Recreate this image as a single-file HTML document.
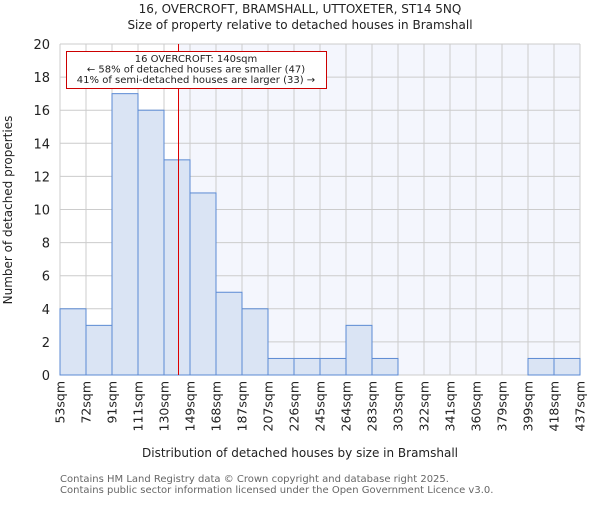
<!DOCTYPE html>
<html><head><meta charset="utf-8"><style>
body{margin:0;background:#fff;}
svg text{font-family:"DejaVu Sans","Liberation Sans",sans-serif;}
</style></head><body>
<svg id="chart" width="600" height="500" xmlns="http://www.w3.org/2000/svg">
<text x="300" y="13" text-anchor="middle" font-size="12" fill="#222">16, OVERCROFT, BRAMSHALL, UTTOXETER, ST14 5NQ</text>
<text x="300" y="29" text-anchor="middle" font-size="12" fill="#222">Size of property relative to detached houses in Bramshall</text>
<g id="plot"></g>
<text x="300" y="457" text-anchor="middle" font-size="12" fill="#222">Distribution of detached houses by size in Bramshall</text>
<text transform="translate(12,210) rotate(-90)" text-anchor="middle" font-size="12" fill="#222">Number of detached properties</text>
<text x="60" y="482" font-size="10" fill="#666">Contains HM Land Registry data © Crown copyright and database right 2025.</text>
<text x="60" y="493" font-size="10" fill="#666">Contains public sector information licensed under the Open Government Licence v3.0.</text>
</svg>
<script>
const binLabels=["53sqm","72sqm","91sqm","111sqm","130sqm","149sqm","168sqm","187sqm","207sqm","226sqm","245sqm","264sqm","283sqm","303sqm","322sqm","341sqm","360sqm","379sqm","399sqm","418sqm","437sqm"];
const binEdges=[53,72,91,111,130,149,168,187,207,226,245,264,283,303,322,341,360,379,399,418,437];
const counts=[4,3,17,16,13,11,5,4,1,1,1,3,1,0,0,0,0,0,1,1];
const yTicks=[0,2,4,6,8,10,12,14,16,18,20];
const markerValue=140;
const L=60,R=580,T=44,B=375,yMax=20;
const ns="http://www.w3.org/2000/svg";
const g=document.getElementById('plot');
const n=counts.length,bw=(R-L)/n;
function xi(i){return L+i*bw;}
function xv(v){for(let i=0;i<binEdges.length-1;i++){if(v<=binEdges[i+1])return xi(i)+bw*(v-binEdges[i])/(binEdges[i+1]-binEdges[i]);}return R;}
function y(v){return B-(B-T)*v/yMax;}
function mk(t,a){const e=document.createElementNS(ns,t);for(const k in a)e.setAttribute(k,a[k]);g.appendChild(e);return e;}
const mx=Math.round(xv(markerValue))+0.5;
let e=mk('rect',{x:L,y:T,width:R-L,height:B-T,fill:'#fff'});


e=mk('rect',{x:mx,y:T,width:R-mx,height:B-T,fill:'#f4f6fd'});


for(let i=0;i<=n;i++){e=mk('line',{x1:xi(i),x2:xi(i),y1:T,y2:B,stroke:'#ccc','stroke-width':1});

}
yTicks.forEach(t=>{e=mk('line',{x1:L,x2:R,y1:y(t),y2:y(t),stroke:'#ccc','stroke-width':1});


e=mk('text',{x:L-10,y:y(t)+5,'text-anchor':'end','font-size':13,fill:'#222'});e.textContent=t;

});
counts.forEach((c,i)=>{if(c<=0)return;e=mk('rect',{x:xi(i),y:y(c),width:bw,height:B-y(c),fill:'#dae4f4',stroke:'#5b8ad3','stroke-width':1});

});
binLabels.forEach((l,i)=>{const x=xi(i)+4.5;e=mk('text',{transform:`translate(${x},381) rotate(-90)`,'text-anchor':'end','font-size':12.5,fill:'#222'});e.textContent=l;

});
e=mk('line',{x1:mx,x2:mx,y1:T,y2:B,stroke:'#dd0000','stroke-width':1});


e=mk('rect',{x:66.5,y:51.5,width:260,height:37,fill:'#fff',stroke:'#cc0000','stroke-width':1});


["16 OVERCROFT: 140sqm","← 58% of detached houses are smaller (47)","41% of semi-detached houses are larger (33) →"].forEach((s,i)=>{e=mk('text',{x:196,y:62+i*10.5,'text-anchor':'middle','font-size':10,fill:'#222'});e.textContent=s;

});
</script>
</body></html>
